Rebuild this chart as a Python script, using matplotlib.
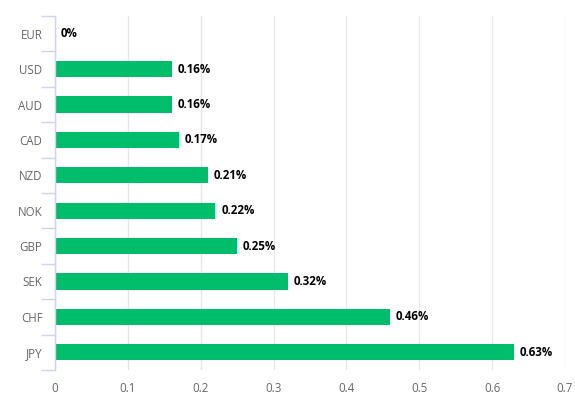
import numpy as np
import matplotlib
matplotlib.use("Agg")
import matplotlib.pyplot as plt

# Currency performance data (top to bottom)
currencies = ["EUR", "USD", "AUD", "CAD", "NZD", "NOK", "GBP", "SEK", "CHF", "JPY"]
values = [0.0, 0.16, 0.16, 0.17, 0.21, 0.22, 0.25, 0.32, 0.46, 0.63]
labels = ["0%", "0.16%", "0.16%", "0.17%", "0.21%", "0.22%", "0.25%", "0.32%", "0.46%", "0.63%"]
x_ticks = [0, 0.1, 0.2, 0.3, 0.4, 0.5, 0.6, 0.7]

plt.rcParams['font.family'] = ['Open Sans', 'DejaVu Sans']

fig = plt.figure(figsize=(5.75, 3.96), dpi=100)
ax = fig.add_axes([55 / 575, 1 - 370 / 396, 510 / 575, 354 / 396])

y = np.arange(len(currencies))
ax.barh(y, values, height=0.46, color="#00bd6c", zorder=3)

for yi, v, lab in zip(y, values, labels):
    ax.annotate(lab, (v, yi), xytext=(4.3, 0), textcoords="offset points",
                va="center", ha="left", fontsize=8.3, fontweight="bold",
                color="#000000", zorder=4)

ax.set_xlim(0, 0.7)
ax.set_ylim(len(currencies) - 0.5, -0.5)
ax.set_xticks(x_ticks)
ax.set_xticklabels([f"{t:g}" for t in x_ticks])
ax.set_yticks(y)
ax.set_yticklabels(currencies)

# category boundaries as outward minor ticks
ax.set_yticks(np.arange(-0.5, len(currencies)), minor=True)
ax.tick_params(axis="y", which="minor", length=10, width=1, color="#ccd6eb", direction="out")
ax.tick_params(axis="y", which="major", length=0, pad=9, labelsize=8.3, labelcolor="#666666")
ax.tick_params(axis="x", length=0, pad=9, labelsize=8.3, labelcolor="#666666")

ax.grid(axis="x", color="#e6e6e6", linewidth=1, zorder=0)
for side in ["top", "right", "bottom"]:
    ax.spines[side].set_visible(False)
ax.spines["left"].set_color("#ccd6eb")
ax.spines["left"].set_linewidth(1)
ax.spines["left"].set_zorder(5)

fig.savefig("out.png", dpi=100)
